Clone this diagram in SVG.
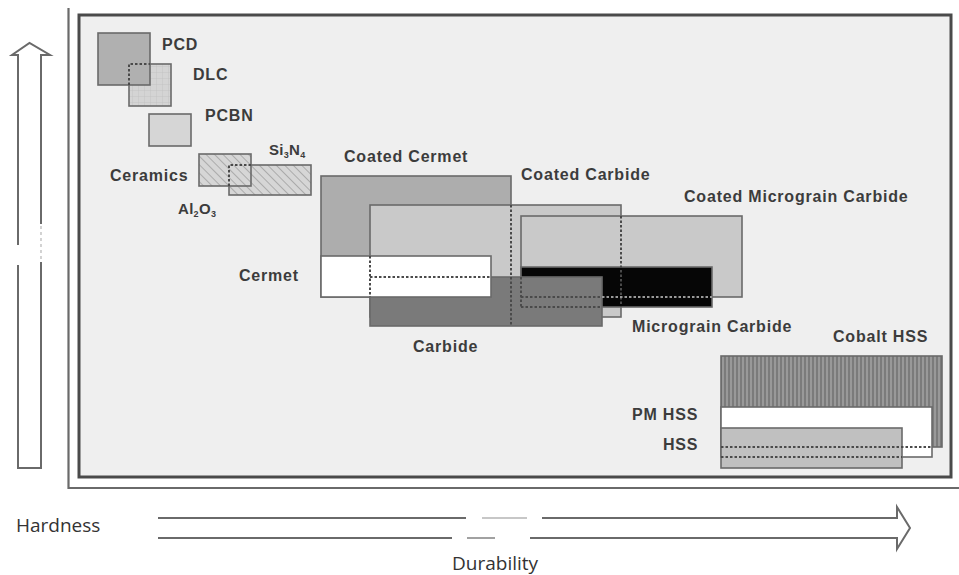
<svg xmlns="http://www.w3.org/2000/svg" width="959" height="575" viewBox="0 0 959 575">
<defs>
<style>
.lbl{font-family:"Liberation Sans",Arial,sans-serif;font-weight:bold;font-size:16px;letter-spacing:0.8px;fill:#3c3c3c}
.ax{font-family:"Open Sans","Noto Sans",sans-serif;font-size:19px;fill:#333}
.box{stroke:#6a6a6a;stroke-width:1.6}
.dash{fill:none;stroke:#4a4a4a;stroke-width:2;stroke-dasharray:2.5 2}
.dashl{fill:none;stroke:#9a9a9a;stroke-width:2;stroke-dasharray:2.5 2}
</style>
<pattern id="hatch" width="6" height="6" patternUnits="userSpaceOnUse" patternTransform="rotate(-45)">
<rect width="6" height="6" fill="#d6d6d6"/>
<line x1="0" y1="0" x2="0" y2="6" stroke="#a0a0a0" stroke-width="1.6"/>
</pattern>
<pattern id="grid" width="6" height="6" patternUnits="userSpaceOnUse">
<rect width="6" height="6" fill="#d4d4d4"/>
<path d="M0,0H6M0,0V6" stroke="#c2c2c2" stroke-width="0.8"/>
</pattern>
<pattern id="vstripe" width="4" height="6" patternUnits="userSpaceOnUse">
<rect width="4" height="6" fill="#999"/>
<line x1="1" y1="0" x2="1" y2="6" stroke="#6e6e6e" stroke-width="1.4"/>
</pattern>
</defs>
<rect width="959" height="575" fill="#fff"/>

<g id="frame">
<path d="M68.5,8 V488 H959" fill="none" stroke="#6a6a6a" stroke-width="2.2"/>
<rect x="79" y="15" width="872" height="462" fill="#efefef" stroke="#4a4a4a" stroke-width="3"/>
</g>

<g id="axis-hardness">
<path d="M18,468 V55 H12 L29.5,43 L50,55 H41 V468 Z" fill="#fff" stroke="#6a6a6a" stroke-width="2"/>
<rect x="14" y="245" width="8" height="20" fill="#fff"/>
<line x1="41" y1="224" x2="41" y2="262" stroke="#fff" stroke-width="2.4"/>
<line x1="41" y1="226" x2="41" y2="260" stroke="#c8c8c8" stroke-width="1.6" stroke-dasharray="3 3"/>
<text class="ax" x="16" y="532">Hardness</text>
</g>

<g id="axis-durability">
<path d="M158,518 H897 V507 L910,528 L897,549 V538 H158" fill="none" stroke="#6a6a6a" stroke-width="2"/>
<rect x="466" y="514" width="76" height="8" fill="#fff"/>
<line x1="482" y1="518" x2="527" y2="518" stroke="#b5b5b5" stroke-width="1.6"/>
<rect x="452" y="534" width="78" height="8" fill="#fff"/>
<line x1="467" y1="538" x2="495" y2="538" stroke="#8a8a8a" stroke-width="1.6"/>
<text class="ax" x="452" y="570">Durability</text>
</g>

<g id="dlc"><rect class="box" x="129" y="64" width="42" height="42" fill="url(#grid)"/><text class="lbl" x="193" y="80">DLC</text></g>
<g id="pcd"><rect class="box" x="98" y="33" width="52" height="52" fill="#b0b0b0"/><text class="lbl" x="162" y="50">PCD</text></g>
<g id="pcbn"><rect class="box" x="149" y="114" width="42" height="32" fill="#d6d6d6"/><text class="lbl" x="205" y="121">PCBN</text></g>
<g id="si3n4"><rect class="box" x="229" y="165" width="82" height="30" fill="url(#hatch)"/><text class="lbl" x="269" y="155" style="font-size:15px;letter-spacing:0.3px">Si<tspan dy="3" style="font-size:9px">3</tspan><tspan dy="-3">N</tspan><tspan dy="3" style="font-size:9px">4</tspan></text></g>
<g id="ceramics"><rect class="box" x="199" y="154" width="52" height="32" fill="url(#hatch)"/><text class="lbl" x="110" y="181">Ceramics</text><text class="lbl" x="178" y="214" style="font-size:15px;letter-spacing:0.3px">Al<tspan dy="3" style="font-size:9px">2</tspan><tspan dy="-3">O</tspan><tspan dy="3" style="font-size:9px">3</tspan></text></g>

<g id="coated-cermet"><rect class="box" x="321" y="176" width="190" height="121" fill="#adadad"/><text class="lbl" x="344" y="162">Coated Cermet</text></g>
<g id="coated-carbide"><rect class="box" x="370" y="205" width="251" height="112" fill="#c9c9c9"/><text class="lbl" x="521" y="180">Coated Carbide</text></g>
<g id="coated-micrograin-carbide"><rect class="box" x="521" y="216" width="221" height="81" fill="#c9c9c9"/><text class="lbl" x="684" y="202">Coated Micrograin Carbide</text></g>
<g id="micrograin-carbide"><rect class="box" x="521" y="267" width="191" height="40" fill="#060606"/><text class="lbl" x="632" y="332">Micrograin Carbide</text></g>
<g id="carbide"><rect class="box" x="370" y="277" width="232" height="49" fill="#7a7a7a"/><text class="lbl" x="413" y="352">Carbide</text></g>
<g id="cermet"><rect class="box" x="321" y="256" width="170" height="41" fill="#ffffff"/><text class="lbl" x="239" y="281">Cermet</text></g>

<g id="cobalt-hss"><rect class="box" x="721" y="356" width="221" height="91" fill="url(#vstripe)"/><text class="lbl" x="833" y="342">Cobalt HSS</text></g>
<g id="pm-hss"><rect class="box" x="721" y="407" width="211" height="50" fill="#ffffff"/><text class="lbl" x="632" y="420">PM HSS</text></g>
<g id="hss"><rect class="box" x="721" y="428" width="181" height="40" fill="#c0c0c0"/><text class="lbl" x="663" y="450">HSS</text></g>

<g id="hidden-edges">
<path class="dash" d="M129,85 V64 H150"/>
<path class="dash" d="M229,186 V165 H251"/>
<path class="dash" d="M511,205 V326"/>
<path class="dash" d="M370,256 V297 M370,277 H491"/>
<path class="dash" d="M621,216 V307"/>
<path class="dash" d="M521,297 H602 M521,307 H602 M521,277 V307"/>
<path class="dashl" d="M602,297 H712"/>
<path class="dash" d="M721,447 H932 M721,457 H902"/>
</g>
</svg>
